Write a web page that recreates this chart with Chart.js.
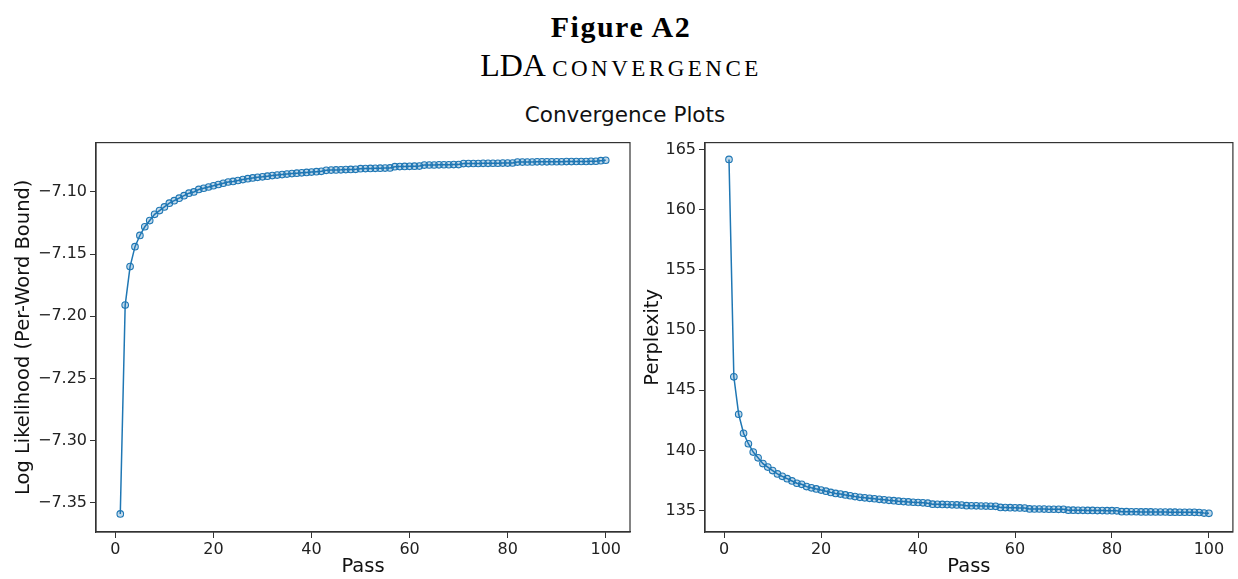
<!DOCTYPE html>
<html>
<head>
<meta charset="utf-8">
<title>LDA convergence</title>
<script src="https://cdn.jsdelivr.net/npm/chart.js@4.4.1/dist/chart.umd.min.js"></script>
<style>
  html, body { margin: 0; padding: 0; background: #fff; }
  body { width: 1238px; height: 579px; position: relative; overflow: hidden; }
  .txt { position: absolute; left: 0; width: 1238px; text-align: center; color: #000; white-space: nowrap; line-height: 1; }
  #figTitle { top: 10px; left: 2px; font: bold 30px "Liberation Serif", serif; letter-spacing: 1.5px; }
  #figSub { top: 47px; left: 2px; font: 32px "Liberation Serif", serif; }
  #figSub span { font-size: 23px; letter-spacing: 3.5px; }
  #supTitle { top: 102px; left: 6px; font: 21.5px "DejaVu Sans", sans-serif; color: #111; }
  .plot { position: absolute; top: 130px; height: 449px; }
  #leftPlot { left: 0; width: 640px; }
  #rightPlot { left: 640px; width: 598px; }
</style>
</head>
<body>
<div class="txt" id="figTitle">Figure A2</div>
<div class="txt" id="figSub">LDA <span>CONVERGENCE</span></div>
<div class="txt" id="supTitle">Convergence Plots</div>
<div class="plot" id="leftPlot"><canvas id="llChart"></canvas></div>
<div class="plot" id="rightPlot"><canvas id="pplChart"></canvas></div>

<script>
// passes (x values)
var passes = [1,2,3,4,5,6,7,8,9,10,11,12,13,14,15,16,17,18,19,20,
  21,22,23,24,25,26,27,28,29,30,31,32,33,34,35,36,37,38,39,40,
  41,42,43,44,45,46,47,48,49,50,51,52,53,54,55,56,57,58,59,60,
  61,62,63,64,65,66,67,68,69,70,71,72,73,74,75,76,77,78,79,80,
  81,82,83,84,85,86,87,88,89,90,91,92,93,94,95,96,97,98,99,100];

// log likelihood (per-word bound)
var logLikelihood = [-7.359,-7.191,-7.160,-7.144,-7.135,-7.128,-7.123,-7.118,-7.115,-7.112,
  -7.109,-7.107,-7.105,-7.103,-7.101,-7.100,-7.098,-7.097,-7.096,-7.095,
  -7.094,-7.093,-7.092,-7.0915,-7.0908,-7.0900,-7.0893,-7.0887,-7.0882,-7.0878,
  -7.0873,-7.0868,-7.0864,-7.0860,-7.0856,-7.0852,-7.0849,-7.0846,-7.0843,-7.0840,
  -7.0837,-7.0834,-7.0826,-7.0824,-7.0823,-7.0822,-7.0820,-7.0819,-7.0818,-7.0813,
  -7.0812,-7.0811,-7.0810,-7.0809,-7.0808,-7.0807,-7.0797,-7.0796,-7.0795,-7.0794,
  -7.0793,-7.0792,-7.0784,-7.0783,-7.0783,-7.0782,-7.0781,-7.0781,-7.0780,-7.0780,
  -7.0772,-7.0772,-7.0771,-7.0771,-7.0770,-7.0770,-7.0769,-7.0769,-7.0768,-7.0768,
  -7.0767,-7.0760,-7.0760,-7.0759,-7.0759,-7.0758,-7.0758,-7.0758,-7.0757,-7.0757,
  -7.0757,-7.0756,-7.0756,-7.0755,-7.0755,-7.0755,-7.0754,-7.0753,-7.0748,-7.0745];

// perplexity
var perplexity = [164.17,146.12,143.01,141.43,140.56,139.87,139.39,138.91,138.62,138.33,
  138.05,137.85,137.66,137.47,137.28,137.19,137.00,136.90,136.81,136.71,
  136.62,136.52,136.43,136.38,136.31,136.24,136.17,136.11,136.07,136.03,
  135.99,135.94,135.90,135.86,135.83,135.79,135.76,135.73,135.70,135.68,
  135.65,135.62,135.54,135.53,135.52,135.51,135.49,135.48,135.47,135.42,
  135.41,135.40,135.39,135.38,135.37,135.36,135.27,135.26,135.25,135.24,
  135.23,135.22,135.15,135.14,135.14,135.13,135.12,135.12,135.11,135.11,
  135.04,135.04,135.03,135.03,135.02,135.02,135.01,135.01,135.00,135.00,
  134.99,134.92,134.92,134.91,134.91,134.90,134.90,134.90,134.89,134.89,
  134.89,134.88,134.88,134.87,134.87,134.87,134.86,134.85,134.80,134.78];

var passTicks = [0, 20, 40, 60, 80, 100];
var llTicks = [-7.35, -7.30, -7.25, -7.20, -7.15, -7.10];
var pplTicks = [135, 140, 145, 150, 155, 160, 165];

var blue = '#1f77b4';
var axisColor = '#333';
var tickFont = { family: 'DejaVu Sans', size: 16 };
var titleFont = { family: 'DejaVu Sans', size: 19.5 };

// draw the full box round the plot area like matplotlib spines
var frame = {
  id: 'frame',
  afterDraw: function(chart) {
    var a = chart.chartArea, ctx = chart.ctx;
    ctx.save();
    ctx.strokeStyle = axisColor;
    ctx.lineWidth = 1.2;
    ctx.strokeRect(a.left, a.top, a.right - a.left, a.bottom - a.top);
    ctx.restore();
  }
};

function points(ys) {
  var out = [];
  for (var i = 0; i < passes.length; i++) out.push({ x: passes[i], y: ys[i] });
  return out;
}

function setTicks(list) {
  return function(scale) {
    scale.ticks = list.map(function(v) { return { value: v }; });
  };
}

function convChart(id, ys, yMin, yMax, yTicks, yTitle, yFmt, yWidth, pad) {
  var ctx = document.getElementById(id).getContext('2d');
  return new Chart(ctx, {
    type: 'line',
    data: {
      datasets: [{
        data: points(ys),
        borderColor: blue,
        borderWidth: 1.5,
        pointRadius: 3.3,
        pointBorderWidth: 1.1,
        pointBorderColor: blue,
        pointBackgroundColor: 'rgba(31,119,180,0.28)',
        tension: 0
      }]
    },
    options: {
      responsive: true,
      maintainAspectRatio: false,
      animation: false,
      layout: { padding: pad },
      plugins: { legend: { display: false }, tooltip: { enabled: false } },
      scales: {
        x: {
          type: 'linear',
          min: -3.95,
          max: 104.95,
          afterBuildTicks: setTicks(passTicks),
          afterFit: function(s) { s.height = 47; },
          grid: { drawOnChartArea: false, drawTicks: true, tickLength: 6, color: axisColor },
          border: { display: true, color: axisColor, width: 1.2 },
          ticks: { font: tickFont, color: '#222', padding: 2, maxRotation: 0 },
          title: { display: true, text: 'Pass', font: titleFont, color: '#111', padding: 0 }
        },
        y: {
          min: yMin,
          max: yMax,
          afterBuildTicks: setTicks(yTicks),
          afterFit: function(s) { s.width = yWidth; },
          grid: { drawOnChartArea: false, drawTicks: true, tickLength: 6, color: axisColor },
          border: { display: true, color: axisColor, width: 1.2 },
          ticks: { font: tickFont, color: '#222', padding: 3, callback: yFmt },
          title: { display: true, text: yTitle, font: titleFont, color: '#111', padding: 0 }
        }
      }
    },
    plugins: [frame]
  });
}

convChart('llChart', logLikelihood, -7.3735, -7.0603, llTicks,
  'Log Likelihood (Per-Word Bound)',
  function(v) { return (v < 0 ? '\u2212' : '') + Math.abs(v).toFixed(2); },
  84, { top: 11, right: 10, bottom: 0, left: 12 });

convChart('pplChart', perplexity, 133.23, 165.57, pplTicks,
  'Perplexity',
  function(v) { return String(v); },
  63.5, { top: 11, right: 2, bottom: 0, left: 1.5 });
</script>
</body>
</html>
